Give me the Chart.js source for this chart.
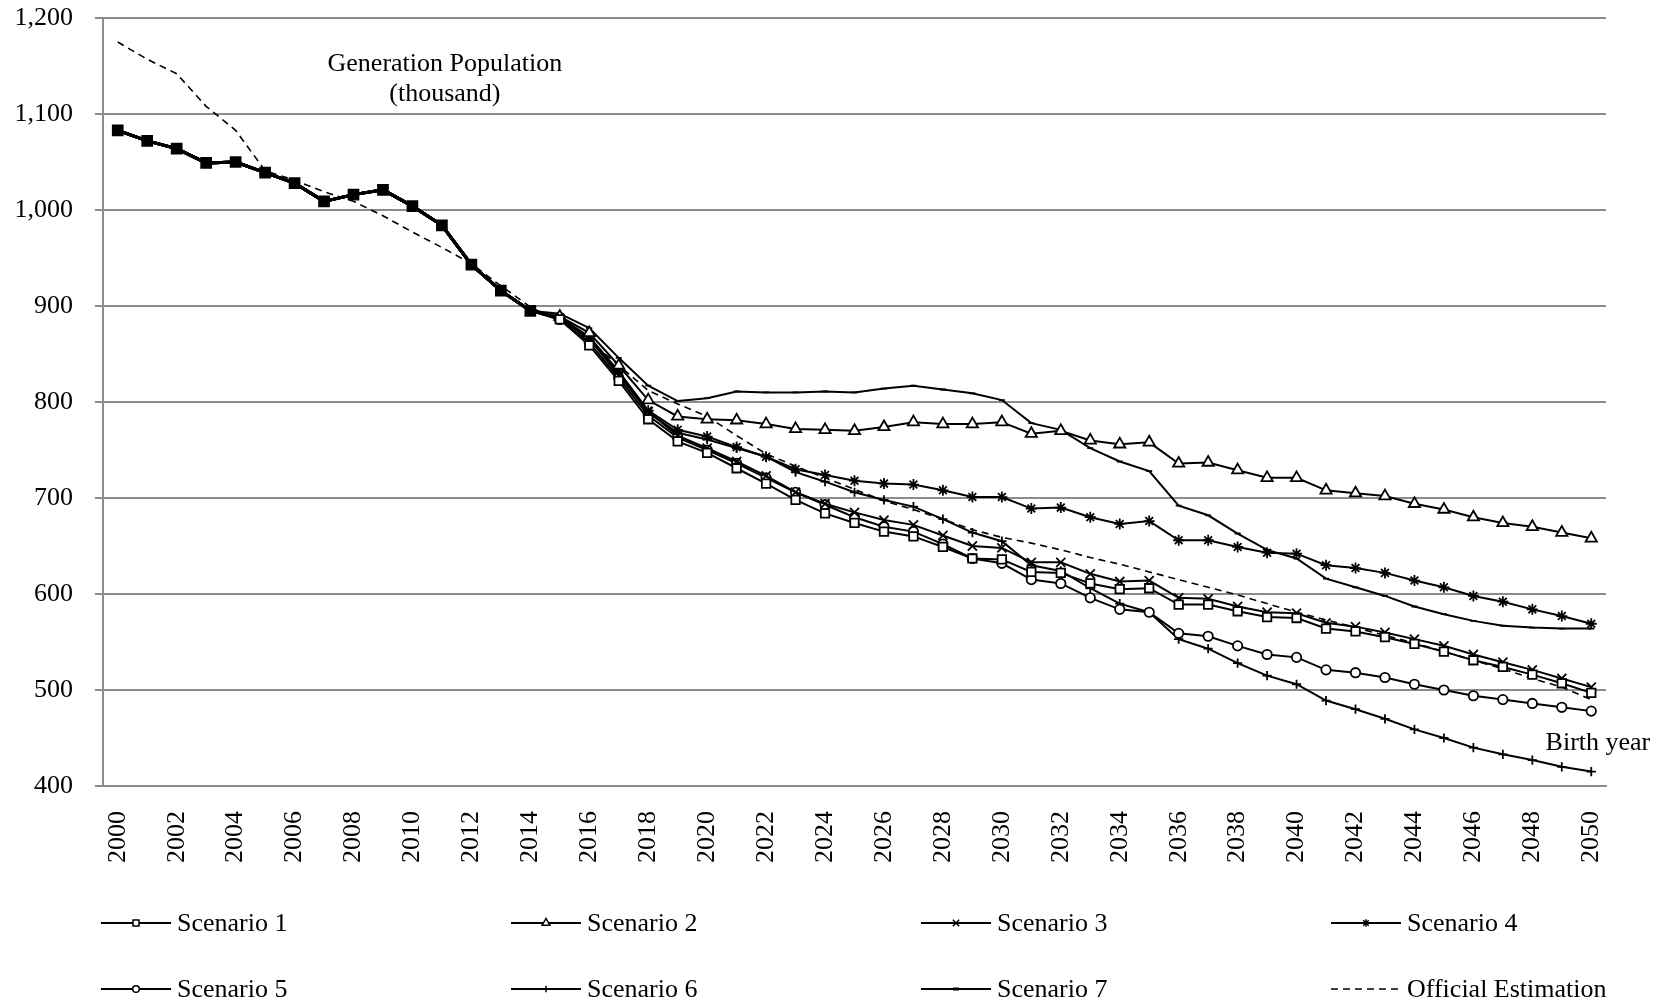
<!DOCTYPE html>
<html>
<head>
<meta charset="utf-8">
<script src="https://cdn.jsdelivr.net/npm/chart.js@4.4.0/dist/chart.umd.min.js"></script>
<style>
    html, body { margin: 0; padding: 0; background: #fff; }
</style>
</head>
<body>
<canvas id="population-chart" width="1666" height="1003"></canvas>
<script>
// Birth years on the category axis
const years = [
    '2000', '2001', '2002', '2003', '2004', '2005', '2006', '2007', '2008', '2009',
    '2010', '2011', '2012', '2013', '2014', '2015', '2016', '2017', '2018', '2019',
    '2020', '2021', '2022', '2023', '2024', '2025', '2026', '2027', '2028', '2029',
    '2030', '2031', '2032', '2033', '2034', '2035', '2036', '2037', '2038', '2039',
    '2040', '2041', '2042', '2043', '2044', '2045', '2046', '2047', '2048', '2049', '2050'
];

// Shared observed values 2000-2014 (thousand)
const history = [1083, 1072, 1064, 1049, 1050, 1039, 1028, 1009, 1016, 1021, 1004, 984, 943, 916, 895];

// Scenario projections 2015-2050
const scenario1 = [886, 859, 822, 782, 759, 747, 731, 715, 698, 684, 674, 665, 660, 649, 637, 636, 623, 622,
    611, 605, 606, 589, 589, 582, 576, 575, 564, 561, 555, 548, 540, 531, 524, 516, 507, 497];
const scenario2 = [889, 872, 838, 802, 785, 782, 781, 777, 772, 771, 770, 774, 779, 777, 777, 779, 767, 770,
    760, 756, 758, 736, 737, 729, 721, 721, 708, 705, 702, 694, 688, 680, 674, 670, 664, 658];
const scenario3 = [887, 866, 828, 790, 765, 752, 738, 723, 706, 694, 685, 677, 672, 661, 650, 648, 633, 633,
    621, 613, 614, 596, 595, 587, 581, 580, 570, 566, 560, 553, 546, 537, 529, 521, 512, 503];
const scenario4 = [888, 868, 832, 791, 771, 764, 753, 743, 730, 724, 718, 715, 714, 708, 701, 701, 689, 690,
    680, 673, 676, 656, 656, 649, 643, 642, 630, 627, 622, 614, 607, 598, 592, 584, 577, 569];
const scenario5 = [886, 862, 825, 786, 763, 750, 736, 721, 706, 693, 680, 670, 665, 652, 637, 632, 615, 611,
    596, 584, 581, 559, 556, 546, 537, 534, 521, 518, 513, 506, 500, 494, 490, 486, 482, 478];
const scenario6 = [887, 866, 830, 789, 768, 761, 752, 743, 727, 717, 706, 698, 691, 678, 664, 655, 630, 624,
    606, 590, 581, 553, 543, 528, 515, 506, 489, 480, 470, 459, 450, 440, 433, 427, 420, 415];
const scenario7 = [892, 877, 846, 817, 801, 804, 811, 810, 810, 811, 810, 814, 817, 813, 809, 802, 778, 771,
    752, 738, 728, 692, 682, 663, 646, 637, 616, 607, 598, 587, 579, 572, 567, 565, 564, 564];

// Official estimation 2000-2050
const official = [1175, 1157, 1142, 1108, 1083, 1041, 1031, 1019, 1009, 994, 977, 961, 944, 921, 899,
    884, 864, 838, 812, 798, 785, 765, 746, 733, 721, 709, 697, 688, 678, 667, 659, 653, 646, 638, 631,
    623, 615, 607, 599, 590, 581, 573, 565, 557, 549, 540, 531, 522, 512, 503, 490];

const FONT = '"Liberation Serif", "Times New Roman", serif';
Chart.defaults.font.family = FONT;
Chart.defaults.font.size = 26;
Chart.defaults.color = '#000';

const histLen = history.length;

function scenario(label, future, style, radius) {
    return {
        label: label,
        data: history.concat(future),
        borderColor: '#000',
        borderWidth: 2,
        segment: {
            borderWidth: ctx => ctx.p1DataIndex < histLen ? 3 : 2
        },
        pointStyle: style,
        pointRadius: ctx => ctx.dataIndex < histLen ? 0 : radius,
        pointBorderWidth: 1.8,
        pointBorderColor: '#000',
        pointBackgroundColor: '#fff',
        legendRadius: Math.max(radius * 0.7, 3)
    };
}

const datasets = [
    scenario('Scenario 1', scenario1, 'rect', 6),
    scenario('Scenario 2', scenario2, 'triangle', 6.5),
    scenario('Scenario 3', scenario3, 'crossRot', 6.4),
    scenario('Scenario 4', scenario4, 'star', 5.5),
    scenario('Scenario 5', scenario5, 'circle', 4.7),
    scenario('Scenario 6', scenario6, 'cross', 4.6),
    scenario('Scenario 7', scenario7, 'line', 3),
    {
        label: 'Official Estimation',
        data: official,
        borderColor: '#000',
        borderWidth: 1.6,
        borderDash: [7, 5],
        pointRadius: 0
    }
];

// the observed part is drawn with filled squares on scenario 1
datasets[0].pointRadius = ctx => ctx.dataIndex < histLen ? 7 : 6;
datasets[0].pointBackgroundColor = ctx => ctx.dataIndex < histLen ? '#000' : '#fff';

/**
 * Legend in fixed columns, plus the two notes inside the plot
 */
const notesAndLegend = {
    id: 'notesAndLegend',
    afterDraw(chart) {
        const ctx = chart.ctx;
        const xs = chart.scales.x;
        const ys = chart.scales.y;
        const area = chart.chartArea;

        ctx.save();
        ctx.font = '26px ' + FONT;
        ctx.fillStyle = '#000';
        ctx.textBaseline = 'middle';

        // notes
        ctx.textAlign = 'center';
        ctx.fillText('Generation Population', xs.getPixelForValue(11.1), ys.getPixelForValue(1152));
        ctx.fillText('(thousand)', xs.getPixelForValue(11.1), ys.getPixelForValue(1121));
        ctx.textAlign = 'left';
        ctx.fillText('Birth year', xs.getPixelForValue(48.45), ys.getPixelForValue(445));

        // legend
        chart.data.datasets.forEach((ds, i) => {
            const x = area.left - 2 + (i % 4) * 410;
            const y = xs.bottom + 54 + Math.floor(i / 4) * 66;

            ctx.strokeStyle = '#000';
            ctx.lineWidth = ds.borderDash ? 1.6 : 2;
            ctx.setLineDash(ds.borderDash || []);
            ctx.beginPath();
            ctx.moveTo(x, y);
            ctx.lineTo(x + 70, y);
            ctx.stroke();
            ctx.setLineDash([]);

            if (ds.legendRadius) {
                ctx.fillStyle = '#fff';
                ctx.lineWidth = ds.pointStyle === 'line' ? 3 : 1.5;
                Chart.helpers.drawPoint(ctx, {
                    pointStyle: ds.pointStyle,
                    radius: ds.legendRadius,
                    rotation: 0,
                    borderWidth: ctx.lineWidth
                }, x + 35, y);
            }

            ctx.fillStyle = '#000';
            ctx.textAlign = 'left';
            ctx.fillText(ds.label, x + 76, y + 1);
        });
        ctx.restore();
    }
};

new Chart(document.getElementById('population-chart').getContext('2d'), {
    type: 'line',
    data: {
        labels: years,
        datasets: datasets
    },
    options: {
        responsive: false,
        animation: false,
        layout: {
            padding: { left: 0, right: 60, top: 18, bottom: 134 }
        },
        plugins: {
            legend: { display: false },
            tooltip: { enabled: false }
        },
        scales: {
            x: {
                offset: true,
                grid: { display: false, drawTicks: false },
                border: { display: true, color: '#8c8c8c', width: 2 },
                ticks: {
                    autoSkip: false,
                    minRotation: 90,
                    maxRotation: 90,
                    padding: 25,
                    color: '#000',
                    callback: (value, index) => index % 2 === 0 ? years[index] : ''
                },
                afterFit: scale => { scale.height = 83; }
            },
            y: {
                min: 400,
                max: 1200,
                grid: { color: '#8c8c8c', lineWidth: 2, tickLength: 8 },
                border: { color: '#8c8c8c', width: 2 },
                ticks: {
                    stepSize: 100,
                    padding: 22,
                    color: '#000',
                    callback: value => value.toLocaleString('en-US')
                },
                afterFit: scale => {
                    scale.width = 103;
                    // the top label may sit half outside the plot, as in the source
                    scale.paddingTop = 0;
                    scale.paddingBottom = 0;
                }
            }
        }
    },
    plugins: [notesAndLegend]
});
</script>
</body>
</html>
